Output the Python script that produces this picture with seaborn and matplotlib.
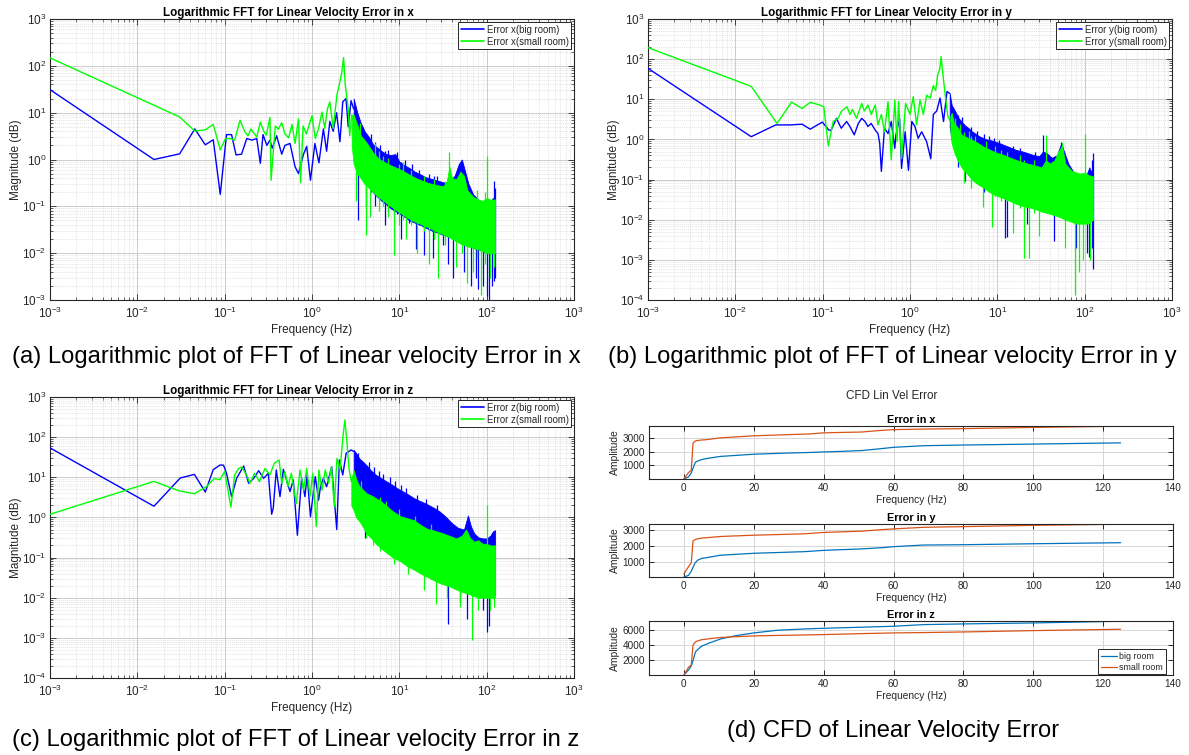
import numpy as np
import matplotlib
matplotlib.use("Agg")
import matplotlib.pyplot as plt
import seaborn as sns
from matplotlib.ticker import LogLocator, NullFormatter, FixedLocator, LogFormatterSciNotation
from matplotlib.lines import Line2D

# ---------------- Panel (a): error in x ----------------
# big room: sparse part
xb_f = [0.001, 0.0155, 0.0305, 0.0455, 0.060, 0.074, 0.089, 0.105, 0.120, 0.135, 0.156, 0.179, 0.205, 0.233,
        0.256, 0.275, 0.304, 0.33, 0.35, 0.394, 0.45, 0.49, 0.56, 0.64, 0.70, 0.80, 0.87, 0.96, 1.08, 1.20,
        1.35, 1.47, 1.60, 1.75, 1.91, 2.09, 2.25, 2.45, 2.60, 2.80, 3.0]
xb_m = [31, 1.0, 1.32, 4.5, 2.06, 2.64, 0.18, 3.4, 3.4, 1.25, 1.3, 2.8, 2.6, 2.8,
        0.83, 3.4, 2.0, 2.6, 1.74, 3.2, 1.3, 2.0, 2.2, 0.7, 0.5, 1.3, 1.9, 0.36, 2.2, 0.85,
        4.5, 1.5, 6.5, 4.0, 10, 2.4, 17, 20, 5, 18, 12]
xb_band_f = [3.0, 3.3, 3.6, 4.0, 4.5, 5.0, 5.6, 6.3, 7.1, 8.0, 9.0, 10, 11.5, 13, 15, 17.5, 20, 24, 28, 33, 38,
             43, 48, 52, 56, 62, 70, 80, 90, 100, 110, 118, 125]
xb_band_hi = [20, 10, 6.2, 4.0, 3.0, 2.1, 1.8, 1.5, 1.3, 1.25, 1.3, 0.9, 0.75, 0.66, 0.55, 0.48, 0.42, 0.38, 0.35,
              0.32, 0.35, 0.45, 0.8, 1.0, 0.6, 0.3, 0.18, 0.14, 0.12, 0.12, 0.13, 0.15, 0.15]
xb_band_lo = [3, 1.0, 0.5, 0.35, 0.25, 0.2, 0.16, 0.13, 0.11, 0.09, 0.08, 0.07, 0.06, 0.05, 0.045, 0.04, 0.035,
              0.03, 0.027, 0.024, 0.022, 0.02, 0.02, 0.018, 0.016, 0.015, 0.013, 0.012, 0.011, 0.01, 0.01, 0.01, 0.01]
xb_spk_f = [3.4, 3.8, 4.2, 4.8, 5.3, 6.0, 6.8, 7.5, 8.7, 9.5, 10.5, 11.5, 13, 14, 15.5, 17, 19, 22, 24, 25, 27, 32,
            36, 41, 55, 66, 75, 80, 90, 100, 105, 115, 122, 125]
xb_spk_lo = [0.05, 0.4, 0.1, 0.2, 0.1, 0.15, 0.04, 0.08, 0.07, 0.07, 0.02, 0.06, 0.045, 0.05, 0.012, 0.04, 0.009,
             0.03, 0.008, 0.02, 0.03, 0.015, 0.006, 0.003, 0.004, 0.002, 0.003, 0.0017, 0.002, 0.0012, 0.001, 0.002,
             0.0025, 0.003]
xb_spk_hi = [5, 5.0, 3.5, 3.5, 2.4, 2.0, 1.5, 1.6, 1.0, 1.45, 0.9, 1.0, 0.6, 0.8, 0.55, 0.6, 0.4, 0.5, 0.38, 0.45,
             0.45, 0.3, 0.4, 0.3, 0.6, 0.1, 0.15, 0.1, 0.12, 0.1, 0.1, 0.1, 0.35, 0.25]
# small room
xg_f = [0.001, 0.0305, 0.0455, 0.060, 0.074, 0.089, 0.102, 0.115, 0.130, 0.150, 0.17, 0.185, 0.2, 0.233, 0.256,
        0.28, 0.30, 0.33, 0.34, 0.38, 0.41, 0.45, 0.49, 0.54, 0.59, 0.64, 0.70, 0.74, 0.79, 0.86, 1.0, 1.09,
        1.19, 1.3, 1.4, 1.5, 1.6, 1.75, 1.93, 2.05, 2.2, 2.3, 2.4, 2.5, 2.6, 2.7, 2.85]
xg_m = [148, 8.1, 4.05, 4.3, 5.6, 1.6, 2.8, 2.8, 2.6, 6.9, 3.9, 3.2, 4.5, 3.0, 6.3,
        4.0, 3.3, 7.9, 0.36, 5.2, 4.4, 6.1, 3.5, 2.9, 5.6, 2.2, 7.4, 0.32, 5.2, 3.5, 8.6, 2.8,
        4.6, 10.3, 4.6, 12, 17, 4.6, 24, 39, 75, 150, 40, 22, 12, 3.2, 9]
xg_band_f = [2.85, 3.0, 3.3, 3.6, 4.0, 4.5, 5.0, 5.5, 6.0, 7.0, 8.0, 9.0, 10.5, 12, 14, 16, 18.5, 21, 24, 28, 32,
             35, 37.5, 40, 45, 50, 55, 60, 70, 80, 90, 100, 110, 125]
xg_band_hi = [9, 9, 5.5, 3.3, 2.6, 1.9, 1.4, 1.15, 1.0, 0.85, 0.75, 0.68, 0.6, 0.52, 0.44, 0.39, 0.35, 0.32, 0.3,
              0.28, 0.27, 0.35, 0.7, 0.4, 0.38, 0.55, 0.45, 0.22, 0.16, 0.14, 0.13, 0.15, 0.14, 0.14]
xg_band_lo = [2.0, 0.8, 0.5, 0.4, 0.3, 0.25, 0.2, 0.17, 0.15, 0.12, 0.1, 0.085, 0.07, 0.06, 0.05, 0.045, 0.04,
              0.036, 0.032, 0.028, 0.025, 0.023, 0.022, 0.02, 0.018, 0.016, 0.015, 0.014, 0.013, 0.012, 0.011,
              0.01, 0.01, 0.01]
xg_spk_f = [3.2, 3.5, 4.1, 4.6, 5.2, 5.8, 6.5, 7.5, 8.7, 10, 11, 12, 13.5, 16, 19, 22, 25, 28, 33, 37.5, 45, 52,
            60, 70, 78, 85, 95, 100, 110, 120]
xg_spk_lo = [0.13, 0.5, 0.025, 0.06, 0.2, 0.08, 0.1, 0.06, 0.009, 0.04, 0.05, 0.02, 0.04, 0.01, 0.03, 0.006, 0.02,
             0.003, 0.015, 0.05, 0.005, 0.01, 0.0023, 0.004, 0.008, 0.0013, 0.006, 0.02, 0.003, 0.005]
xg_spk_hi = [3, 6, 1.5, 1.2, 2.2, 1.5, 1.2, 1.1, 0.5, 0.8, 0.9, 0.4, 0.6, 0.3, 0.45, 0.25, 0.38, 0.2, 0.35, 1.47,
             0.2, 0.45, 0.1, 0.1, 0.22, 0.1, 0.2, 1.16, 0.1, 0.1]

# ---------------- Panel (b): error in y ----------------
yb_f = [0.001, 0.0152, 0.029, 0.043, 0.058, 0.072, 0.099, 0.118, 0.125, 0.144, 0.163, 0.188, 0.205, 0.23, 0.256,
        0.28, 0.305, 0.33, 0.36, 0.40, 0.43, 0.45, 0.47, 0.51, 0.56, 0.61, 0.67, 0.69, 0.76, 0.80, 0.88, 0.96,
        1.05, 1.14, 1.24, 1.36, 1.55, 1.73, 1.85, 2.02, 2.21, 2.42, 2.65, 2.85]
yb_m = [59, 1.17, 2.3, 2.3, 2.4, 1.8, 2.7, 1.7, 1.7, 3.35, 1.9, 2.8, 2.1, 1.3, 2.5,
        3.35, 2.8, 2.1, 2.5, 1.7, 1.4, 0.8, 0.16, 1.9, 1.4, 2.8, 0.6, 1.3, 3.35, 0.19, 1.55, 0.17,
        2.8, 2.1, 1.07, 1.55, 0.88, 0.33, 4.2, 5.1, 10.7, 2.8, 15.6, 14]
yb_band_f = [2.85, 3.0, 3.3, 3.6, 4.0, 4.3, 4.7, 5.1, 5.6, 6.2, 6.8, 7.5, 8.5, 9.7, 11.5, 13.6, 16.3, 19.5, 25, 30,
             33.4, 37, 42, 48, 54, 58, 65, 75, 85, 95, 105, 113, 120, 125]
yb_band_hi = [14, 7.2, 5, 3.4, 2.6, 2.2, 1.9, 1.6, 1.4, 1.2, 1.1, 1.0, 0.95, 0.87, 0.75, 0.65, 0.55, 0.5, 0.42,
              0.38, 0.5, 0.45, 0.35, 0.4, 0.8, 0.5, 0.25, 0.15, 0.13, 0.13, 0.13, 0.2, 0.15, 0.12]
yb_band_lo = [2.0, 1.0, 0.5, 0.35, 0.25, 0.2, 0.17, 0.14, 0.12, 0.1, 0.085, 0.075, 0.065, 0.055, 0.045, 0.04,
              0.033, 0.03, 0.025, 0.022, 0.02, 0.02, 0.018, 0.016, 0.015, 0.014, 0.013, 0.012, 0.011, 0.01,
              0.01, 0.01, 0.01, 0.01]
yb_spk_f = [3.5, 3.9, 4.3, 5.0, 5.8, 7.0, 8.0, 9.2, 10.5, 12.2, 13, 15, 18, 22, 27, 33.4, 45, 54, 80, 105, 113,
            122, 125]
yb_spk_lo = [0.2, 0.3, 0.09, 0.15, 0.1, 0.05, 0.06, 0.05, 0.04, 0.0036, 0.0038, 0.03, 0.025, 0.008, 0.02, 0.1,
             0.003, 0.05, 0.002, 0.0015, 0.0012, 0.002, 0.0006]
yb_spk_hi = [4, 3.6, 2, 2.0, 1.6, 1.4, 1.2, 1.1, 0.95, 0.3, 0.4, 0.7, 0.6, 0.3, 0.5, 1.29, 0.2, 0.85, 0.1, 0.1,
             0.1, 0.3, 0.45]
yg_f = [0.001, 0.0152, 0.030, 0.044, 0.058, 0.072, 0.093, 0.103, 0.116, 0.132, 0.15, 0.165, 0.19, 0.205, 0.22,
        0.244, 0.28, 0.30, 0.33, 0.36, 0.40, 0.43, 0.47, 0.51, 0.56, 0.61, 0.67, 0.71, 0.74, 0.80, 0.89, 1.0,
        1.09, 1.19, 1.3, 1.42, 1.55, 1.7, 1.85, 1.97, 2.08, 2.19, 2.27, 2.37, 2.53, 2.71, 2.9]
yg_m = [193, 21, 2.5, 8.5, 5.9, 8.4, 7.2, 6.5, 0.69, 2.8, 3.35, 5.1, 6.5, 4.2, 5.6,
        3.35, 7.9, 5.1, 7.2, 4.2, 7.2, 2.3, 4.2, 1.55, 8.7, 0.31, 9.6, 0.88, 8.7, 0.33, 7.9, 4.2,
        11.6, 2.3, 9.6, 4.2, 12.7, 10.7, 22, 16.6, 42, 56, 115, 46, 12.7, 3.8, 2.8]
yg_band_f = [2.9, 3.0, 3.2, 3.5, 3.9, 4.4, 5.1, 5.8, 6.8, 8.0, 9.7, 11.5, 13.6, 16.3, 19.5, 24, 28, 32, 36, 40,
             45, 50, 55, 60, 70, 80, 90, 100, 110, 125]
yg_band_hi = [3.8, 4.6, 2.5, 2.0, 1.3, 1.15, 0.99, 0.85, 0.68, 0.57, 0.47, 0.42, 0.36, 0.31, 0.27, 0.24, 0.22,
              0.2, 0.3, 0.25, 0.3, 0.5, 0.7, 0.25, 0.17, 0.15, 0.14, 0.15, 0.13, 0.12]
yg_band_lo = [1.5, 0.8, 0.5, 0.3, 0.2, 0.15, 0.1, 0.08, 0.065, 0.05, 0.04, 0.035, 0.03, 0.025, 0.022, 0.02,
              0.018, 0.016, 0.015, 0.014, 0.013, 0.012, 0.011, 0.01, 0.009, 0.008, 0.008, 0.008, 0.008, 0.01]
yg_spk_f = [3.3, 3.7, 4.1, 4.7, 5.0, 5.5, 6.8, 7.5, 8.6, 9.5, 11, 13, 15, 18, 20, 23, 26, 30, 36, 55, 60, 78, 85,
            95, 100, 115]
yg_spk_lo = [0.4, 0.3, 0.082, 0.2, 0.06, 0.1, 0.021, 0.06, 0.0067, 0.04, 0.03, 0.03, 0.0046, 0.02, 0.0011, 0.0011,
             0.015, 0.004, 0.05, 0.05, 0.002, 0.00013, 0.0005, 0.001, 0.02, 0.001]
yg_spk_hi = [3.5, 2.4, 1.5, 1.6, 1.2, 1.2, 0.7, 0.9, 0.5, 0.7, 0.55, 0.5, 0.3, 0.4, 0.3, 0.25, 0.3, 0.2, 1.3, 0.87,
             0.15, 0.12, 0.12, 0.1, 1.4, 0.12]

# ---------------- Panel (c): error in z ----------------
zb_f = [0.001, 0.0155, 0.031, 0.045, 0.060, 0.074, 0.0885, 0.097, 0.105, 0.12, 0.137, 0.165, 0.188, 0.215, 0.245,
        0.28, 0.316, 0.345, 0.36, 0.39, 0.43, 0.47, 0.51, 0.56, 0.61, 0.68, 0.76, 0.83, 0.88, 0.96, 1.09,
        1.19, 1.25, 1.35, 1.47, 1.68, 1.92, 2.06, 2.25, 2.46, 2.8, 3.0]
zb_m = [54, 1.9, 9.6, 11.8, 4.3, 15.5, 20.2, 20, 12.6, 3.3, 9.4, 19.1, 7.1, 9.4, 14.6,
        9.4, 12.6, 1.2, 1.69, 15.2, 3.3, 15.8, 8.6, 4.4, 8.6, 0.36, 9.4, 3.3, 11.4, 1.04, 10.4,
        2.7, 5.8, 9.4, 5.8, 18.4, 0.5, 27, 11.4, 39.5, 48, 44]
zb_band_f = [3.0, 3.2, 3.5, 3.8, 4.2, 4.7, 5.4, 6.2, 7.2, 8.3, 9.5, 11.3, 13, 14.8, 17, 19.4, 22, 25.3, 29, 33, 40,
             47, 55, 61, 66, 72, 80, 90, 100, 110, 118, 125]
zb_band_hi = [48, 40, 29, 25, 20, 15, 11.5, 9.5, 7.8, 6.5, 5.3, 4.3, 3.6, 3.0, 2.6, 2.3, 2.0, 1.7, 1.4, 1.1, 0.72,
              0.55, 0.5, 1.12, 0.6, 0.4, 0.32, 0.3, 0.3, 0.35, 0.45, 0.48]
zb_band_lo = [3, 2.5, 2, 1.5, 1.0, 0.7, 0.5, 0.4, 0.3, 0.25, 0.2, 0.15, 0.12, 0.1, 0.08, 0.07, 0.06, 0.05, 0.04,
              0.035, 0.03, 0.025, 0.02, 0.02, 0.018, 0.016, 0.015, 0.013, 0.012, 0.012, 0.012, 0.012]
zb_spk_f = [3.4, 4.0, 4.5, 5.1, 5.8, 6.5, 7.8, 9.0, 10.5, 12, 16, 20, 27, 36, 50, 60, 90, 100, 105]
zb_spk_lo = [1.0, 0.3, 0.5, 0.4, 0.3, 0.4, 0.3, 0.2, 0.15, 0.12, 0.08, 0.06, 0.05, 0.0022, 0.008, 0.003, 0.005,
             0.0014, 0.002]
zb_spk_hi = [40, 5, 24, 18, 14, 12, 10, 8, 6.5, 5.5, 3.6, 2.8, 2.0, 0.1, 0.1, 0.1, 0.1, 0.1, 0.1]
zg_f = [0.001, 0.0155, 0.030, 0.045, 0.062, 0.076, 0.088, 0.1, 0.118, 0.13, 0.145, 0.157, 0.178, 0.195, 0.22,
        0.25, 0.29, 0.33, 0.37, 0.42, 0.45, 0.49, 0.53, 0.58, 0.66, 0.73, 0.80, 0.87, 0.95, 1.02, 1.12, 1.2,
        1.3, 1.42, 1.55, 1.67, 1.8, 1.93, 2.1, 2.25, 2.38, 2.5, 2.65, 2.82, 3.0]
zg_m = [1.2, 7.9, 4.6, 3.9, 5.9, 9.3, 8.7, 14, 1.8, 11.4, 16.7, 18, 11.4, 7.1, 12.6,
        7.8, 16.7, 11.4, 22.3, 27, 7.1, 13.8, 5.8, 12.6, 2.2, 15.2, 4.8, 16.7, 3.3, 12.6, 0.6, 15.2,
        4.8, 15.2, 7.1, 18.4, 1.85, 29.6, 15.2, 93.5, 268, 85, 16.7, 7.8, 12]
zg_band_f = [2.82, 3.0, 3.2, 3.5, 3.8, 4.2, 4.8, 5.4, 6.2, 7.2, 8.5, 10.4, 12.5, 14.8, 17.5, 21, 25, 30.7, 36, 40,
             45, 52, 58, 65, 72, 80, 90, 100, 110, 125]
zg_band_hi = [7.8, 15, 9, 5.9, 5, 4.0, 3.5, 3.0, 2.5, 1.9, 1.4, 1.06, 0.95, 0.85, 0.65, 0.52, 0.47, 0.41, 0.36,
              0.33, 0.3, 0.35, 0.5, 0.3, 0.25, 0.27, 0.22, 0.22, 0.2, 0.2]
zg_band_lo = [2, 1.5, 1.0, 0.8, 0.6, 0.4, 0.3, 0.22, 0.17, 0.13, 0.1, 0.08, 0.06, 0.05, 0.04, 0.033, 0.027, 0.022,
              0.02, 0.018, 0.016, 0.014, 0.013, 0.012, 0.011, 0.01, 0.01, 0.01, 0.01, 0.01]
zg_spk_f = [3.6, 4.2, 5.0, 6.0, 7.0, 8.7, 9.8, 12.6, 15, 19.4, 23, 26.6, 35, 50, 68, 80, 100, 110, 120]
zg_spk_lo = [1.0, 0.3, 0.2, 0.15, 0.15, 0.07, 0.1, 0.04, 0.05, 0.016, 0.03, 0.007, 0.01, 0.006, 0.00087, 0.005,
             0.02, 0.005, 0.006]
zg_spk_hi = [8, 3, 2.5, 3.2, 2.6, 1.0, 1.6, 0.8, 1.1, 0.5, 0.7, 0.4, 0.3, 0.2, 0.2, 0.2, 2.0, 0.2, 0.2]

# ---------------- Panel (d): cumulative curves ----------------
cx_f = [0, 1.3, 2.1, 2.6, 3.2, 3.5, 5, 6.2, 10.5, 20, 30, 36, 40, 45, 50.8, 56, 60, 68.7, 80, 100, 125]
cx_big = [0, 150, 450, 800, 1190, 1280, 1430, 1500, 1670, 1830, 1920, 1960, 2000, 2040, 2100, 2230, 2340, 2460,
          2510, 2580, 2670]
cx_small = [0, 470, 660, 2640, 2800, 2830, 2880, 2900, 3040, 3190, 3280, 3330, 3410, 3440, 3470, 3580, 3650, 3690,
            3720, 3810, 3900]
cy_f = [0, 1.3, 2.1, 2.6, 3.2, 4, 5, 10.5, 20, 34.5, 40, 50.8, 57, 60, 68.7, 80, 100, 125]
cy_big = [100, 200, 450, 700, 980, 1150, 1245, 1450, 1570, 1670, 1750, 1840, 1920, 1980, 2080, 2100, 2160, 2225]
cy_small = [300, 735, 980, 2330, 2420, 2470, 2510, 2610, 2690, 2775, 2860, 2940, 3040, 3080, 3180, 3220, 3300, 3370]
cz_f = [0, 1.3, 2.1, 2.6, 3.2, 3.5, 5, 7.3, 10.5, 14.9, 20, 26.8, 34.5, 40, 50.8, 60, 68.7, 80, 100, 125]
cz_big = [0, 670, 1200, 1900, 2930, 3200, 3820, 4270, 4800, 5240, 5600, 5960, 6130, 6220, 6360, 6490, 6710, 6800,
          6930, 7160]
cz_small = [0, 1020, 1330, 4000, 4350, 4470, 4690, 4830, 5000, 5100, 5200, 5270, 5330, 5380, 5510, 5600, 5650,
            5730, 5910, 6090]

fft_titles = ["Logarithmic FFT for Linear Velocity Error in x",
              "Logarithmic FFT for Linear Velocity Error in y",
              "Logarithmic FFT for Linear Velocity Error in z"]
fft_legends = [["Error x(big room)", "Error x(small room)"],
               ["Error y(big room)", "Error y(small room)"],
               ["Error z(big room)", "Error z(small room)"]]
cfd_titles = ["Error in x", "Error in y", "Error in z"]
cfd_legend = ["big room", "small room"]
captions = ["(a) Logarithmic plot of FFT of Linear velocity Error in x",
            "(b) Logarithmic plot of FFT of Linear velocity Error in y",
            "(c) Logarithmic plot of FFT of Linear velocity Error in z",
            "(d) CFD of Linear Velocity Error"]

# ---------------- styling ----------------
sns.set_theme(style="white")
plt.rcParams['font.family'] = ['Liberation Sans', 'DejaVu Sans']
plt.rcParams['mathtext.fontset'] = 'custom'
plt.rcParams['mathtext.rm'] = 'Liberation Sans'
plt.rcParams['mathtext.it'] = 'Liberation Sans:italic'
plt.rcParams['mathtext.bf'] = 'Liberation Sans:bold'

W, H = 1189, 755
fig = plt.figure(figsize=(W / 100, H / 100), dpi=100)
fig.patch.set_facecolor('white')
DARK = '#262626'
BLUE = (0, 0, 1)
GREEN = (0, 1, 0)


def add_ax(l, t, r, b):
    return fig.add_axes([l / W, 1 - b / H, (r - l) / W, (b - t) / H])


def style_spines(ax):
    for s in ax.spines.values():
        s.set_color(DARK)
        s.set_linewidth(0.8)
        s.set_visible(True)


def fft_panel(ax, series, ylim, title, labels):
    ax.set_xscale('log')
    ax.set_yscale('log')
    for (f, m, bf, blo, bhi, sf, slo, shi), col in zip(series, [BLUE, GREEN]):
        ax.fill_between(bf, blo, bhi, color=col, lw=0.6, edgecolor=col, zorder=2)
        ax.vlines(sf, slo, shi, color=col, lw=0.9, zorder=2)
        sns.lineplot(x=f, y=m, ax=ax, color=col, lw=1.0, estimator=None, sort=False,
                     legend=False, zorder=3)
    ax.set_xlim(1e-3, 1e3)
    ax.set_ylim(*ylim)
    lo_exp = int(round(np.log10(ylim[0])))
    ax.xaxis.set_major_locator(FixedLocator([10.0 ** k for k in range(-3, 4)]))
    ax.yaxis.set_major_locator(FixedLocator([10.0 ** k for k in range(lo_exp, 4)]))
    for axis in (ax.xaxis, ax.yaxis):
        axis.set_major_formatter(LogFormatterSciNotation())
        axis.set_minor_locator(LogLocator(base=10, subs=np.arange(2, 10), numticks=100))
        axis.set_minor_formatter(NullFormatter())
    ax.grid(True, which='major', color='#c4c4c4', lw=0.6)
    ax.grid(True, which='minor', color='#dadada', lw=0.5, ls=(0, (1.5, 1.5)))
    ax.set_axisbelow(True)
    ax.tick_params(which='both', direction='in', top=True, right=True, bottom=True, left=True,
                   colors=DARK, labelcolor=DARK, labelsize=8.5)
    ax.tick_params(which='major', length=4, width=0.6)
    ax.tick_params(axis='x', which='major', pad=4.5)
    ax.tick_params(axis='y', which='major', pad=2.5)
    ax.tick_params(which='minor', length=2, width=0.5)
    style_spines(ax)
    ax.set_title(title, fontsize=8.4, fontweight='bold', pad=2.5, color='black', x=0.455)
    ax.set_xlabel('Frequency (Hz)', fontsize=8.5, labelpad=1.5, color=DARK)
    ax.set_ylabel('Magnitude (dB)', fontsize=8.5, labelpad=0, color=DARK)
    handles = [Line2D([], [], color=BLUE, lw=1.2), Line2D([], [], color=GREEN, lw=1.2)]
    leg = ax.legend(handles, labels, loc='upper right', bbox_to_anchor=(0.995, 0.99), borderaxespad=0.0,
                    fontsize=6.9, frameon=True, fancybox=False, edgecolor=DARK, framealpha=1,
                    handlelength=2.4, handletextpad=0.3, borderpad=0.3, labelspacing=0.2)
    leg.get_frame().set_linewidth(0.7)


def cfd_panel(ax, f, big, small, title, yticks, ylim, show_legend=False):
    sns.lineplot(x=f, y=big, ax=ax, color='#0072BD', lw=0.9, estimator=None, sort=False, legend=False)
    sns.lineplot(x=f, y=small, ax=ax, color='#D95319', lw=0.9, estimator=None, sort=False, legend=False)
    ax.set_xlim(-10, 140)
    ax.set_ylim(*ylim)
    ax.set_xticks(list(range(0, 141, 20)))
    ax.set_yticks(yticks)
    ax.grid(True, color='#d6d6d6', lw=0.7)
    ax.set_axisbelow(True)
    ax.tick_params(direction='in', top=True, right=True, bottom=True, left=True, length=3.5,
                   width=0.7, colors=DARK, labelcolor=DARK, labelsize=7.2, pad=3)
    style_spines(ax)
    ax.set_title(title, fontsize=7.8, fontweight='bold', pad=2.5, color='black')
    ax.set_xlabel('Frequency (Hz)', fontsize=7.4, labelpad=1.5, color=DARK)
    ax.set_ylabel('Amplitude', fontsize=7.4, labelpad=1.5, color=DARK)
    if show_legend:
        handles = [Line2D([], [], color='#0072BD', lw=0.9), Line2D([], [], color='#D95319', lw=0.9)]
        leg = ax.legend(handles, cfd_legend, loc='lower right', bbox_to_anchor=(0.986, 0.01),
                        borderaxespad=0.0, fontsize=6.4, frameon=True, fancybox=False, edgecolor=DARK,
                        framealpha=1, handlelength=1.8, handletextpad=0.3, borderpad=0.3,
                        labelspacing=0.2)
        leg.get_frame().set_linewidth(0.7)


ax_a = add_ax(50, 19, 574, 300)
fft_panel(ax_a,
          [(xb_f, xb_m, xb_band_f, xb_band_lo, xb_band_hi, xb_spk_f, xb_spk_lo, xb_spk_hi),
           (xg_f, xg_m, xg_band_f, xg_band_lo, xg_band_hi, xg_spk_f, xg_spk_lo, xg_spk_hi)],
          (1e-3, 1e3), fft_titles[0], fft_legends[0])

ax_b = add_ax(648, 19, 1172, 300)
fft_panel(ax_b,
          [(yb_f, yb_m, yb_band_f, yb_band_lo, yb_band_hi, yb_spk_f, yb_spk_lo, yb_spk_hi),
           (yg_f, yg_m, yg_band_f, yg_band_lo, yg_band_hi, yg_spk_f, yg_spk_lo, yg_spk_hi)],
          (1e-4, 1e3), fft_titles[1], fft_legends[1])

ax_c = add_ax(50, 397, 574, 678)
fft_panel(ax_c,
          [(zb_f, zb_m, zb_band_f, zb_band_lo, zb_band_hi, zb_spk_f, zb_spk_lo, zb_spk_hi),
           (zg_f, zg_m, zg_band_f, zg_band_lo, zg_band_hi, zg_spk_f, zg_spk_lo, zg_spk_hi)],
          (1e-4, 1e3), fft_titles[2], fft_legends[2])

ax_d1 = add_ax(649, 426, 1173, 479)
cfd_panel(ax_d1, cx_f, cx_big, cx_small, cfd_titles[0], [1000, 2000, 3000], (0, max(cx_small) * 1.004))
ax_d2 = add_ax(649, 524, 1173, 577)
cfd_panel(ax_d2, cy_f, cy_big, cy_small, cfd_titles[1], [1000, 2000, 3000], (min(cy_big), max(cy_small) * 1.004))
ax_d3 = add_ax(649, 621, 1173, 675)
cfd_panel(ax_d3, cz_f, cz_big, cz_small, cfd_titles[2], [2000, 4000, 6000], (0, max(cz_big) * 1.004),
          show_legend=True)

fig.text(892 / W, 1 - 396 / H, "CFD Lin Vel Error", ha='center', va='center', fontsize=8.4, color=DARK)

cap_kw = dict(ha='center', va='center', fontsize=17.1, color='black')
fig.text(296 / W, 1 - 357 / H, captions[0], **cap_kw)
fig.text(892 / W, 1 - 357 / H, captions[1], **cap_kw)
fig.text(296 / W, 1 - 740 / H, captions[2], **cap_kw)
fig.text(893 / W, 1 - 731 / H, captions[3], **cap_kw)

fig.savefig("out.png", dpi=100, facecolor='white')
